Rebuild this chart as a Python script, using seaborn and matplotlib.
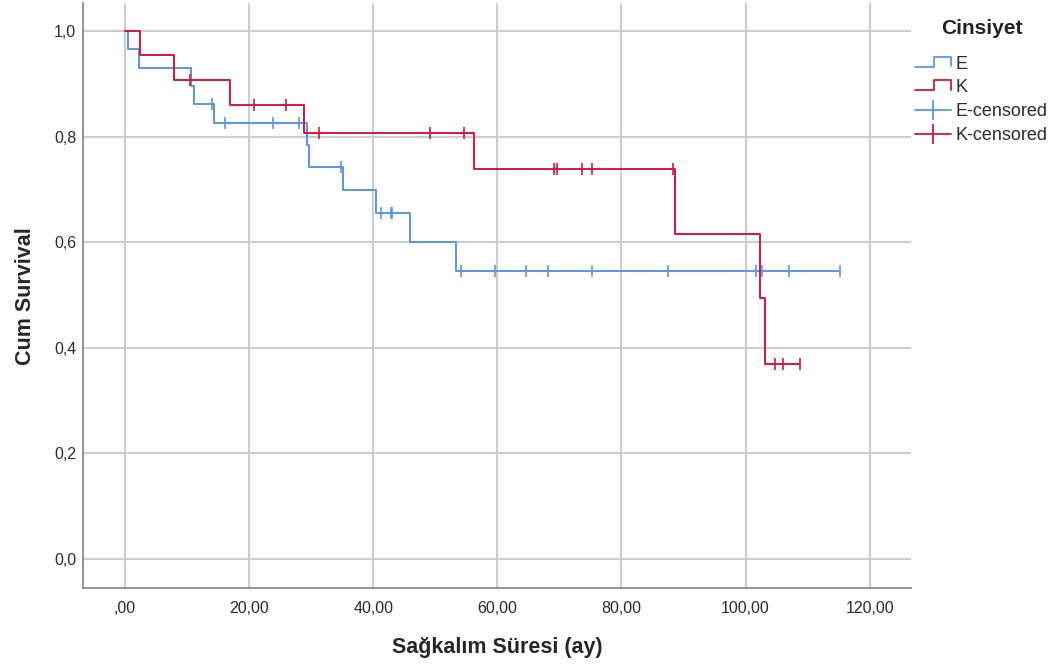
import numpy as np
import pandas as pd
import matplotlib
matplotlib.use("Agg")
import matplotlib.pyplot as plt
import seaborn as sns
from matplotlib.lines import Line2D
from matplotlib.legend_handler import HandlerBase
from matplotlib.ticker import FuncFormatter

# Kaplan-Meier steps
e_times = [0, 0.5, 2.3, 10.7, 11.1, 14.3, 29.3, 29.7, 35.1, 40.4, 45.9, 53.3, 115.2]
e_surv = [1.0, 0.966, 0.931, 0.897, 0.862, 0.826, 0.784, 0.743, 0.700, 0.656, 0.601, 0.546, 0.546]
e_censored = [14.0, 16.2, 23.9, 28.0, 34.8, 41.2, 42.8, 43.1, 54.2, 59.6, 64.6, 68.2,
              75.3, 87.5, 101.7, 102.6, 107.0, 115.2]

k_times = [0, 2.4, 7.9, 17.0, 28.9, 56.3, 88.7, 102.4, 103.2, 108.7]
k_surv = [1.0, 0.955, 0.908, 0.861, 0.807, 0.740, 0.617, 0.494, 0.370, 0.370]
k_censored = [10.5, 20.8, 26.0, 31.2, 49.1, 54.7, 69.1, 69.6, 73.7, 75.3, 88.3,
              104.7, 106.0, 108.7]

groups = ["E", "K"]
colors = {"E": "#5a96e3", "K": "#d6163e"}


def surv_at(times, surv, t):
    # value of the step function at the censoring time
    idx = np.searchsorted(times, t, side="right") - 1
    return np.array(surv)[idx]


steps = pd.concat([
    pd.DataFrame({"time": e_times, "surv": e_surv, "group": "E"}),
    pd.DataFrame({"time": k_times, "surv": k_surv, "group": "K"}),
])
cens = pd.concat([
    pd.DataFrame({"time": e_censored, "surv": surv_at(e_times, e_surv, e_censored), "group": "E"}),
    pd.DataFrame({"time": k_censored, "surv": surv_at(k_times, k_surv, k_censored), "group": "K"}),
])

sns.set_style("white")
plt.rcParams["font.family"] = ["Liberation Sans", "DejaVu Sans"]

fig = plt.figure(figsize=(10.62, 6.7), dpi=100)
ax = fig.add_axes([0.0784, 0.1219, 0.7791, 0.8736])

for g in groups:
    d = steps[steps.group == g]
    sns.lineplot(data=d, x="time", y="surv", ax=ax, color=colors[g], lw=1.4,
                 drawstyle="steps-post", estimator=None, sort=False, legend=False)
    c = cens[cens.group == g]
    sns.scatterplot(data=c, x="time", y="surv", ax=ax, color=colors[g], marker="|",
                    s=70, linewidth=1.2, legend=False, zorder=3)

ax.set_xlim(-6.7, 126.6)
ax.set_ylim(-0.0556, 1.054)
ax.set_xticks(np.arange(0, 121, 20))
ax.set_yticks(np.arange(0, 1.01, 0.2))
ax.xaxis.set_major_formatter(FuncFormatter(lambda v, p: ",00" if v == 0 else f"{v:.2f}".replace(".", ",")))
ax.yaxis.set_major_formatter(FuncFormatter(lambda v, p: f"{v:.1f}".replace(".", ",")))
ax.grid(True, color="#cccccc", lw=1.5)
ax.set_axisbelow(True)
for s in ["top", "right"]:
    ax.spines[s].set_visible(False)
for s in ["left", "bottom"]:
    ax.spines[s].set_color("#8a8a8a")
    ax.spines[s].set_linewidth(1.3)
ax.tick_params(length=0, labelsize=11.5, labelcolor="#2a2a2a")
ax.tick_params(axis="y", pad=5)
ax.tick_params(axis="x", pad=9)
ax.set_xlabel("Sağkalım Süresi (ay)", fontsize=15.5, fontweight="bold", labelpad=15)
ax.set_ylabel("Cum Survival", fontsize=15.5, fontweight="bold", labelpad=13)


class StepHandler(HandlerBase):
    def create_artists(self, legend, orig_handle, xdescent, ydescent, width, height, fontsize, trans):
        x = np.array([0, 0.52, 0.52, 1.0, 1.0]) * width - xdescent
        y = np.array([0.15, 0.15, 0.95, 0.95, 0.2]) * height - ydescent
        line = Line2D(x, y, color=orig_handle.get_color(), lw=orig_handle.get_linewidth())
        line.set_transform(trans)
        return [line]


handles = [
    Line2D([], [], color=colors["E"], lw=1.3),
    Line2D([], [], color=colors["K"], lw=1.3),
    Line2D([0], [0], color=colors["E"], lw=1.3, marker="|", markersize=15, markeredgewidth=1.3),
    Line2D([0], [0], color=colors["K"], lw=1.3, marker="|", markersize=15, markeredgewidth=1.3),
]
labels = ["E", "K", "E-censored", "K-censored"]
leg = fig.legend(handles, labels, loc="upper left",
                 bbox_to_anchor=(0.8465, 0.9414), frameon=False, fontsize=13,
                 handlelength=2.0, handletextpad=0.25, labelspacing=0.38,
                 handler_map={handles[0]: StepHandler(), handles[1]: StepHandler()})
for t in leg.get_texts():
    t.set_color("#2a2a2a")
fig.text(982 / 1062, 1 - 28 / 670, "Cinsiyet", ha="center", va="center",
         fontsize=15, fontweight="bold", color="#222222")

fig.savefig("out.png", dpi=100)
